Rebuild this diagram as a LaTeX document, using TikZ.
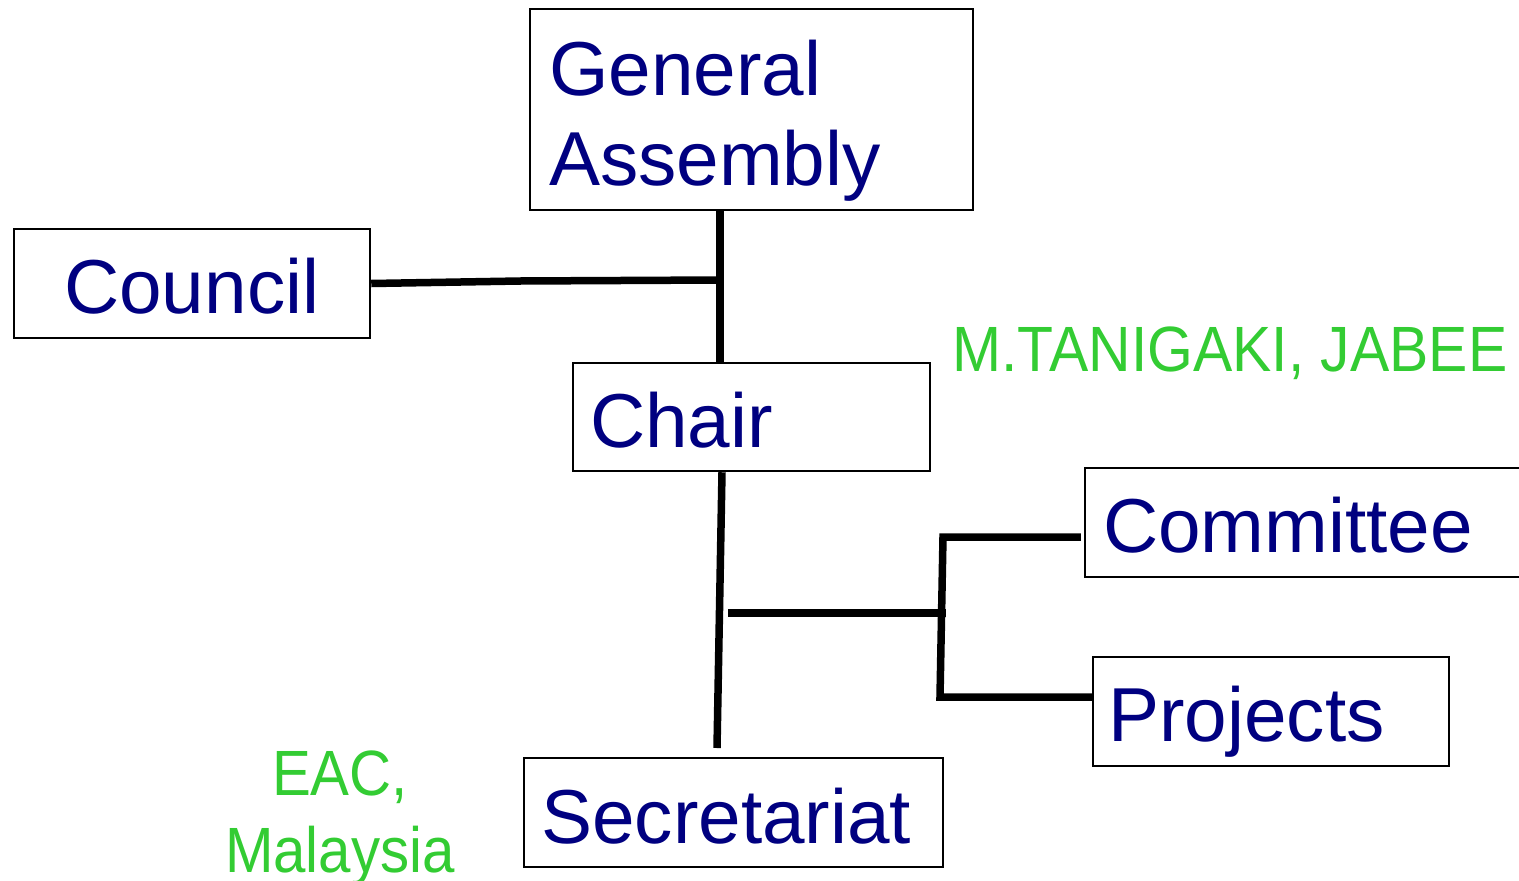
\documentclass[tikz,border=0pt]{standalone}
\usepackage{fontspec}
\setmainfont{Liberation Sans}
\definecolor{boxtext}{RGB}{0,0,128}
\definecolor{note}{RGB}{51,204,51}
\begin{document}
\begin{tikzpicture}[x=1pt,y=-1pt,
  box/.style={draw=black,line width=2.5pt,minimum width=#1,inner sep=0pt},
  boxlabel/.style={anchor=base west,inner sep=0pt,text=boxtext,font=\fontsize{76.5}{90}\selectfont},
  notelabel/.style={inner sep=0pt,text=note,font=\fontsize{64}{77}\selectfont},
  conn/.style={line width=7.5pt,black}]
\useasboundingbox (0,0) rectangle (1519,881);
\clip (0,0) rectangle (1519,881);
% boxes
\node[box=443pt,minimum height=201pt] (ga) at (751.5,109.5) {};
\node[box=356pt,minimum height=109pt] (council) at (192,283.5) {};
\node[box=357pt,minimum height=108pt] (chair) at (751.5,417) {};
\node[box=440pt,minimum height=109pt] (committee) at (1305,522.5) {};
\node[box=356pt,minimum height=109pt] (projects) at (1271,711.5) {};
\node[box=419pt,minimum height=109pt] (secretariat) at (733.5,812.5) {};
% box texts
\node[boxlabel] (gat1) at (549,95) {General};
\node[boxlabel] (gat2) at (549,185) {Assembly};
\node[boxlabel] (councilt) at (64,313) {Council};
\node[boxlabel] (chairt) at (590,447) {Chair};
\node[boxlabel] (committeet) at (1103,552) {Committee};
\node[boxlabel] (projectst) at (1108,741) {Projects};
\node[boxlabel] (secretariatt) at (541,843) {Secretariat};
% notes
\node[notelabel,anchor=base west] (tanigaki) at (952,371) {\scalebox{0.92}[1]{M.TANIGAKI, JABEE}};
\node[notelabel,anchor=base] (eac) at (340,795) {\scalebox{0.91}[1]{EAC,}};
\node[notelabel,anchor=base] (malaysia) at (340,872) {\scalebox{0.91}[1]{Malaysia}};
% junction coordinates
\coordinate (top) at (720,0);
\coordinate (cj) at (720,280);
\coordinate (trunkend) at (717,748);
\coordinate (hstart) at (728,613);
\coordinate (hend) at (946,613);
\coordinate (b1) at (943,537);
\coordinate (b2) at (940,697);
% connectors
\draw[conn] (ga.south -| top) -- (chair.north -| top);
\draw[conn] (council.east) -- (520,281) -- (cj);
\draw[conn] (chair.south -| 722,0) -- (trunkend);
\draw[conn] (hstart) -- (hend);
\draw[conn,line join=miter] ([xshift=-3pt]b1 -| committee.west) -- (b1) -- (b2) -- (b2 -| projects.west);
\end{tikzpicture}
\end{document}
